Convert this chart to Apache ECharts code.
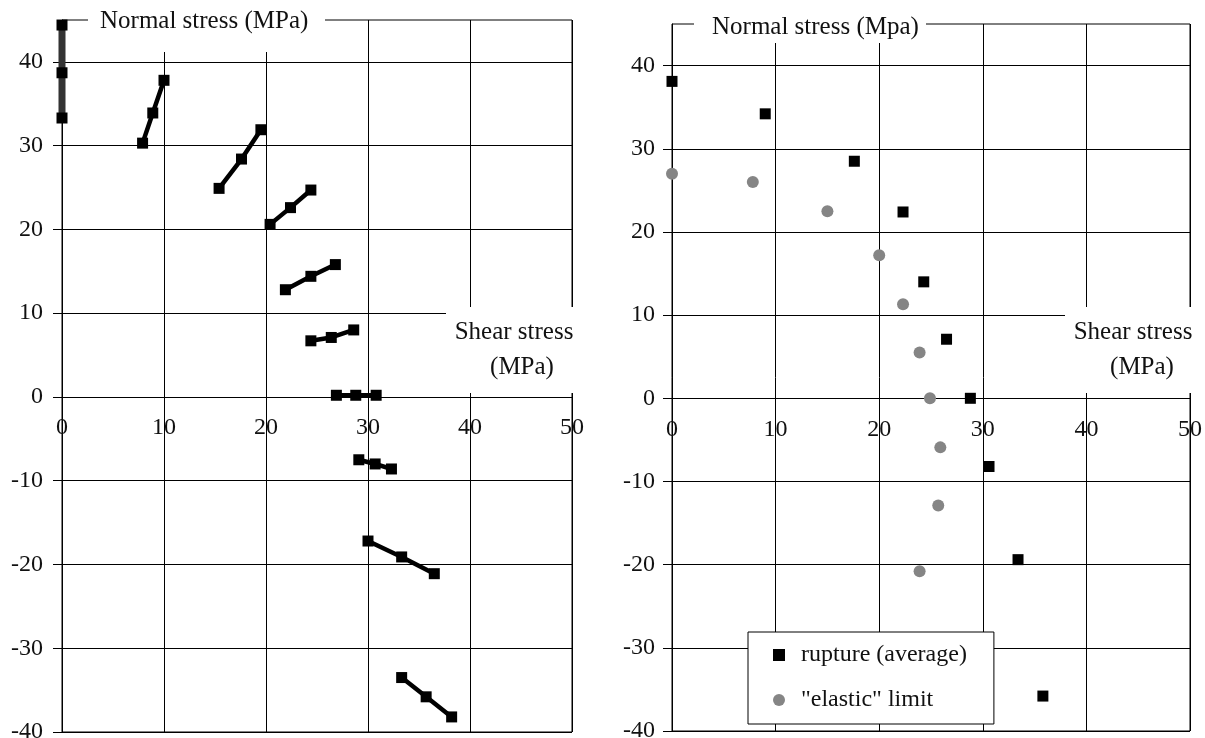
<!DOCTYPE html>
<html><head><meta charset="utf-8">
<script src="https://cdn.jsdelivr.net/npm/echarts@6/dist/echarts.min.js"></script>
<style>html,body{margin:0;padding:0;background:#fff}#c{width:1205px;height:738px}</style>
</head><body><div id="c"></div>
<script>
const FONT = '"Liberation Serif", "Times New Roman", serif';
const xTicks = [0, 10, 20, 30, 40, 50];
const yTicks = [-40, -30, -20, -10, 0, 10, 20, 30, 40];
const Y_MIN = -40, Y_MAX = 45, X_MIN = 0, X_MAX = 50;

// Left chart: groups of three points (shear stress, normal stress)
const leftShear = [
  [0, 0, 0],
  [7.9, 8.9, 10.0],
  [15.4, 17.6, 19.5],
  [20.4, 22.4, 24.4],
  [21.9, 24.4, 26.8],
  [24.4, 26.4, 28.6],
  [26.9, 28.8, 30.8],
  [29.1, 30.7, 32.3],
  [30.0, 33.3, 36.5],
  [33.3, 35.7, 38.2]
];
const leftNormal = [
  [44.4, 38.7, 33.3],
  [30.3, 33.9, 37.8],
  [24.9, 28.4, 31.9],
  [20.6, 22.6, 24.7],
  [12.8, 14.4, 15.8],
  [6.7, 7.1, 8.0],
  [0.2, 0.2, 0.2],
  [-7.5, -8.0, -8.6],
  [-17.2, -19.1, -21.1],
  [-33.5, -35.8, -38.2]
];

// Right chart
const ruptureShear  = [0, 9.0, 17.6, 22.3, 24.3, 26.5, 28.8, 30.6, 33.4, 35.8];
const ruptureNormal = [38.1, 34.2, 28.5, 22.4, 14.0, 7.1, 0, -8.2, -19.4, -35.8];
const elasticShear  = [0, 7.8, 15.0, 20.0, 22.3, 23.9, 24.9, 25.9, 25.7, 23.9];
const elasticNormal = [27.0, 26.0, 22.5, 17.2, 11.3, 5.5, 0, -5.9, -12.9, -20.8];

const seriesNames = ['rupture (average)', '"elastic" limit'];
const leftTitle = 'Normal stress (MPa)';
const rightTitle = 'Normal stress (Mpa)';
const xTitle1 = 'Shear stress';
const xTitle2 = '(MPa)';

const grids = [
  { left: 62, top: 20, width: 510, height: 712 },
  { left: 672, top: 24, width: 518, height: 707 }
];

function xAxisCfg(gi) {
  // place the horizontal axis at normal stress = 0
  const off = -grids[gi].height * (0 - Y_MIN) / (Y_MAX - Y_MIN);
  return {
    type: 'value', gridIndex: gi, min: X_MIN, max: X_MAX, interval: 10,
    position: 'bottom', offset: off,
    axisLine: { onZero: false, lineStyle: { color: '#000', width: 1 } },
    axisTick: { show: false },
    axisLabel: { color: '#111', fontFamily: FONT, fontSize: 24, margin: 19 },
    splitLine: { show: true, lineStyle: { color: '#000', width: 1 } }
  };
}
function yAxisCfg(gi, margin) {
  return {
    type: 'value', gridIndex: gi, min: Y_MIN, max: Y_MAX, interval: 10,
    axisLine: { onZero: false, lineStyle: { color: '#000', width: 1 } },
    axisTick: { show: true, length: 9, customValues: yTicks, lineStyle: { color: '#000' } },
    axisLabel: { customValues: yTicks, color: '#111', fontFamily: FONT, fontSize: 24, margin: margin,
      formatter: v => (v === Y_MAX ? '' : String(v)) },
    splitLine: { show: true, lineStyle: { color: '#000', width: 1 } }
  };
}

const series = [];
leftShear.forEach((xs, i) => {
  series.push({
    type: 'line', xAxisIndex: 0, yAxisIndex: 0, clip: false,
    data: xs.map((x, j) => [x, leftNormal[i][j]]),
    symbol: 'rect', symbolSize: 11, showSymbol: true,
    lineStyle: { color: i === 0 ? '#333' : '#000', width: i === 0 ? 7 : 4.5 },
    itemStyle: { color: '#000', opacity: 1 },
    z: 5
  });
});
series.push({
  name: seriesNames[0], type: 'scatter', xAxisIndex: 1, yAxisIndex: 1, clip: false,
  data: ruptureShear.map((x, i) => [x, ruptureNormal[i]]),
  symbol: 'rect', symbolSize: 11, itemStyle: { color: '#000', opacity: 1 }, z: 5
});
series.push({
  name: seriesNames[1], type: 'scatter', xAxisIndex: 1, yAxisIndex: 1, clip: false,
  data: elasticShear.map((x, i) => [x, elasticNormal[i]]),
  symbol: 'circle', symbolSize: 12, itemStyle: { color: '#858585', opacity: 1 }, z: 5
});

function mask(x, y, w, h) {
  return { type: 'rect', z: 100, shape: { x: x, y: y, width: w, height: h }, style: { fill: '#fff' } };
}
function label(x, y, text, align) {
  return { type: 'text', z: 101, x: x, y: y,
    style: { text: text, fill: '#111', font: '25px ' + FONT, align: align || 'left', verticalAlign: 'middle' } };
}

const option = {
  animation: false,
  backgroundColor: '#fff',
  grid: grids.map(g => Object.assign({}, g, {
    outerBoundsMode: 'none', containLabel: false,
    show: true, borderColor: '#000', borderWidth: 1, backgroundColor: 'transparent'
  })),
  xAxis: [xAxisCfg(0), xAxisCfg(1)],
  yAxis: [yAxisCfg(0, 19), yAxisCfg(1, 17)],
  legend: {
    data: [{ name: seriesNames[0], icon: 'rect' }, { name: seriesNames[1], icon: 'circle' }],
    orient: 'vertical', left: 748, top: 632,
    padding: [11, 27, 12, 25], itemGap: 21, itemWidth: 12, itemHeight: 12,
    backgroundColor: '#fff', borderColor: '#000', borderWidth: 1, borderRadius: 0,
    textStyle: { fontFamily: FONT, fontSize: 24, color: '#111', padding: [0, 0, 0, 11] },
    z: 50
  },
  graphic: [
    mask(88, 0, 237, 52), label(100, 21, leftTitle),
    mask(446, 307, 134, 86), label(514, 332, xTitle1, 'center'), label(522, 367, xTitle2, 'center'),
    mask(694, 0, 232, 43), label(712, 27, rightTitle),
    mask(1065, 307, 140, 86), label(1133, 332, xTitle1, 'center'), label(1142, 367, xTitle2, 'center')
  ],
  series: series
};
const chart = echarts.init(document.getElementById('c'), null, { renderer: 'canvas' });
chart.setOption(option);
</script></body></html>
